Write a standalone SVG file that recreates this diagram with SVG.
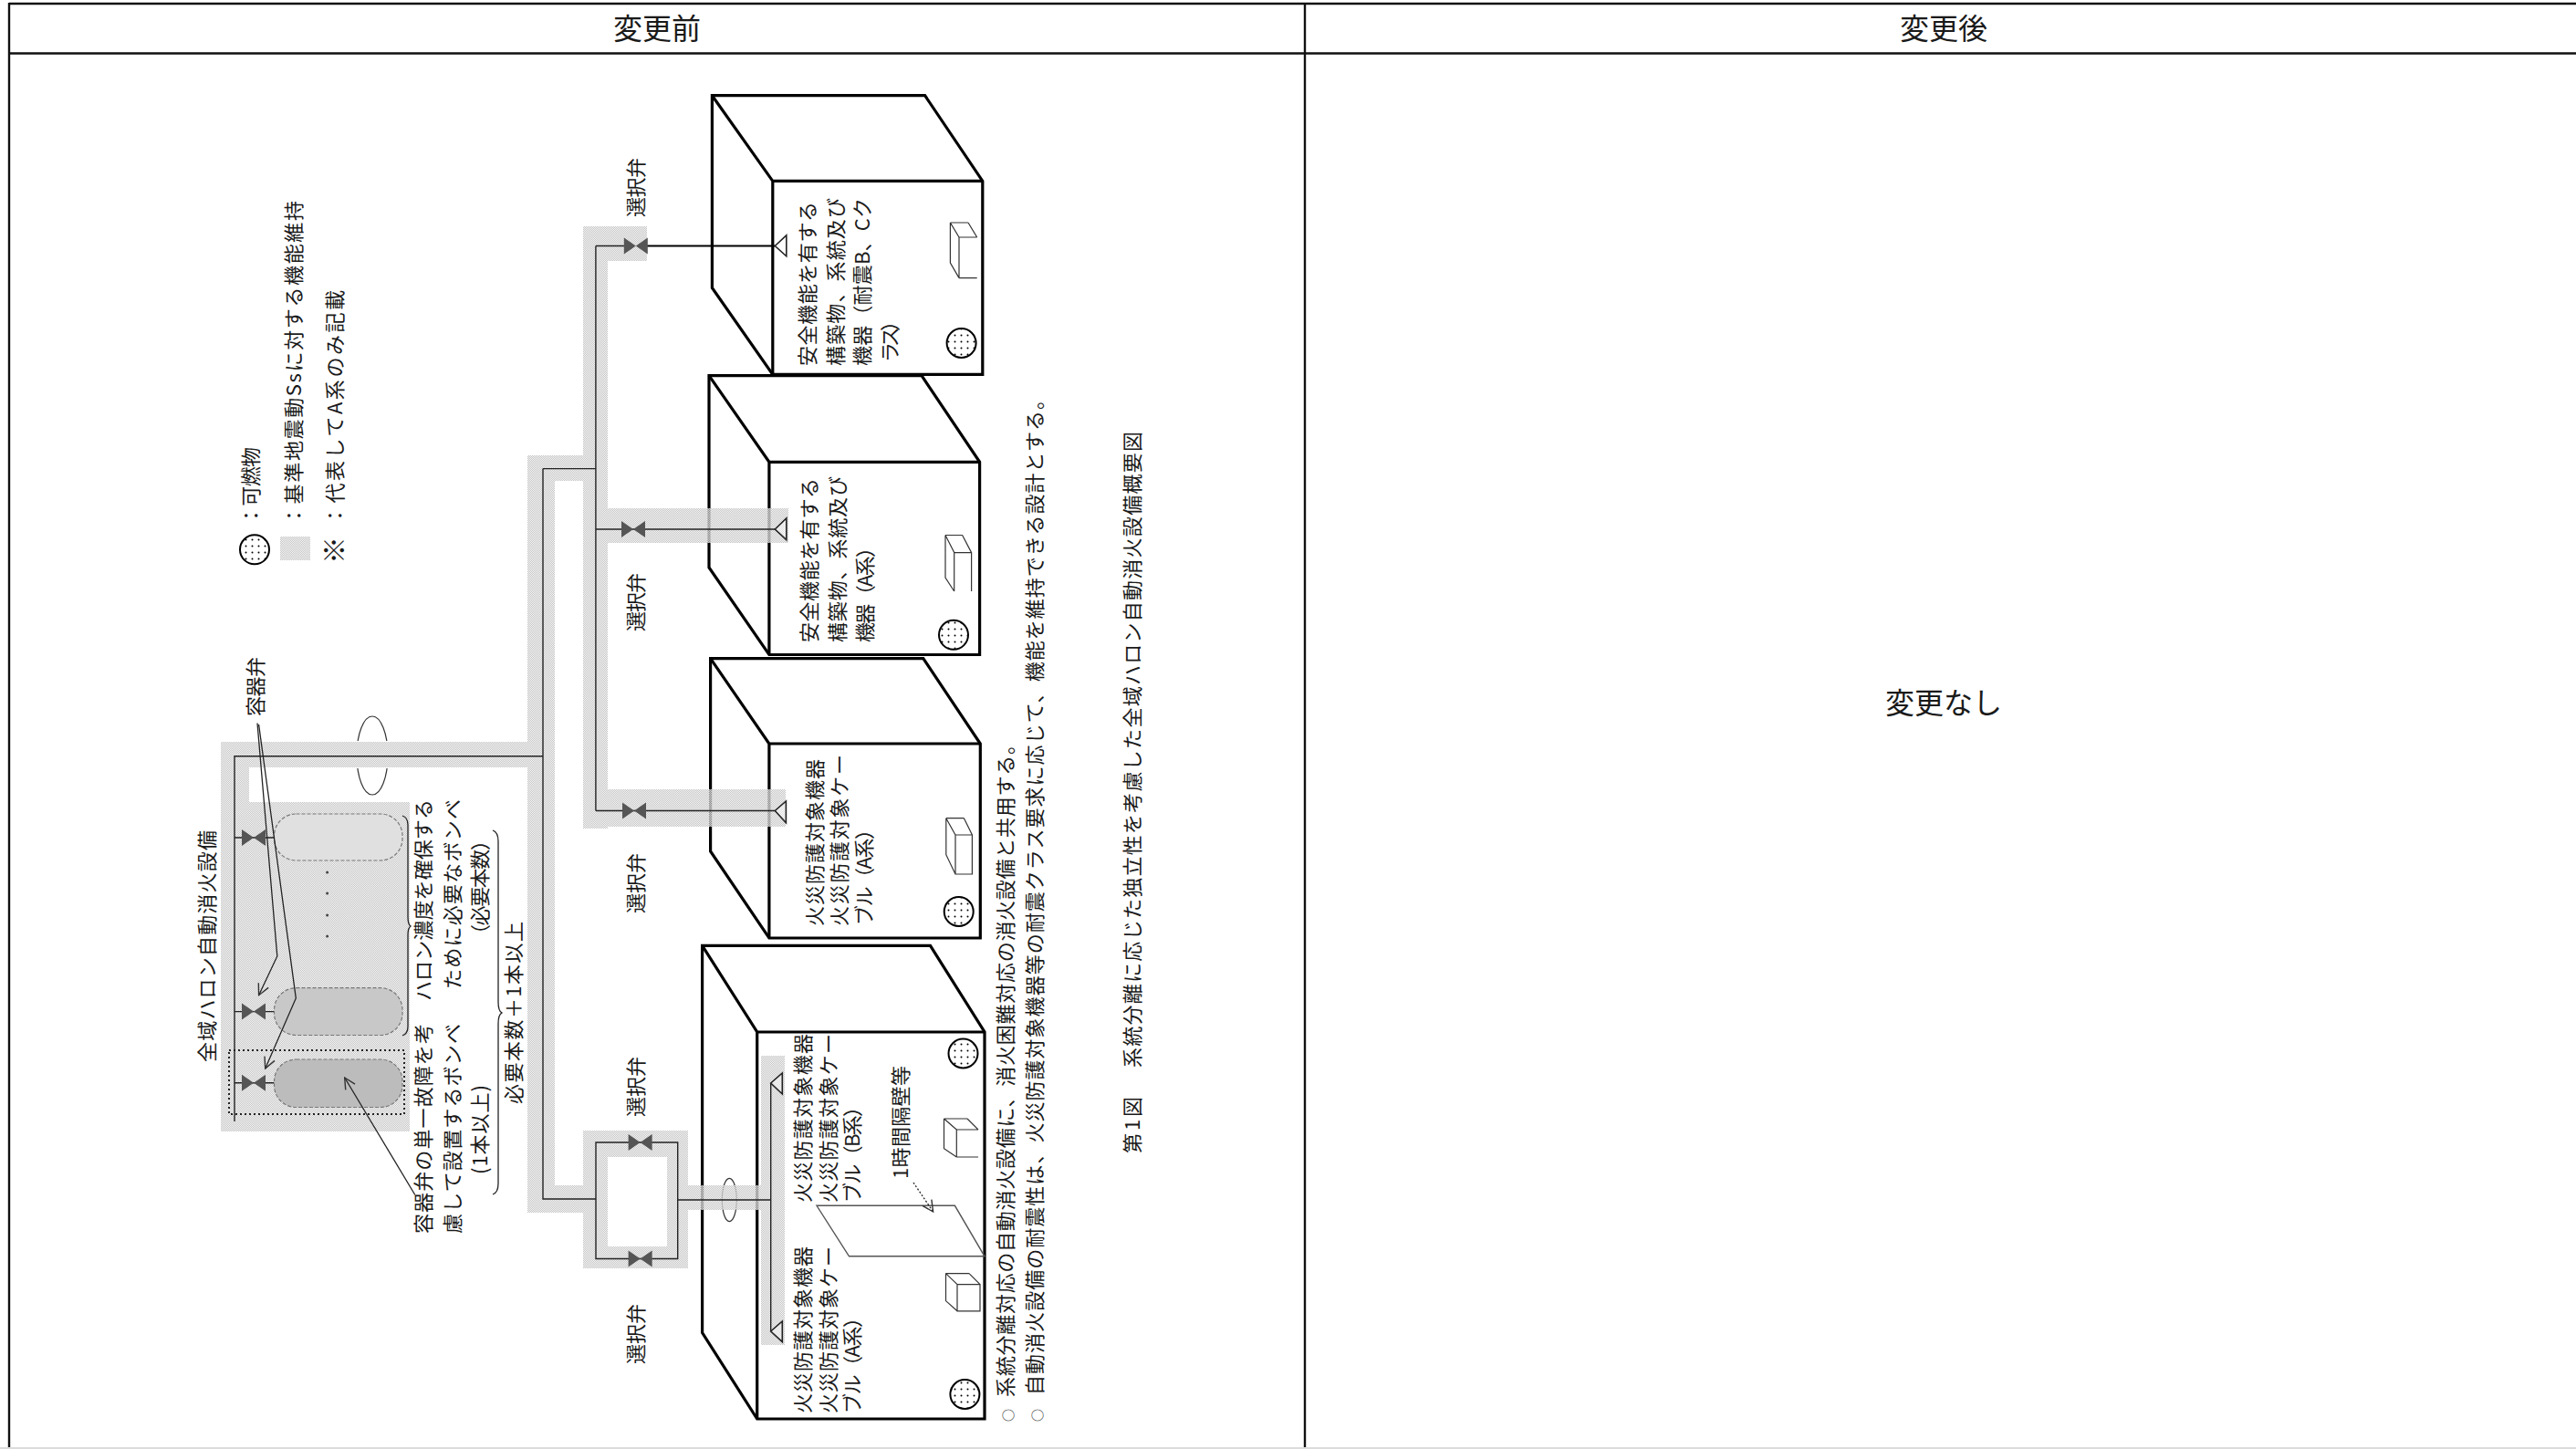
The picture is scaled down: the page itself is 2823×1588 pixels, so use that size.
<svg xmlns="http://www.w3.org/2000/svg" width="2823" height="1588" viewBox="0 0 2823 1588">
<style>
text{font-family:"Noto Sans CJK JP","Noto Sans CJK SC",sans-serif;fill:#1a1a1a}
.h{font-size:32px;text-anchor:middle}
.t{font-size:22px}
.n{font-size:22px}
.s{font-size:14px}
.tl{stroke:#111;stroke-width:2.4;fill:none}
.bx{fill:#fff;stroke:#000;stroke-width:3.2;stroke-linejoin:miter}
.ed{fill:none;stroke:#000;stroke-width:3.2}
.cube{fill:none;stroke:#333;stroke-width:1.2}
.band{fill:url(#ht);stroke:none;fill-rule:evenodd}
.pipe{fill:none;stroke:#222;stroke-width:1.4}
.ci{fill:url(#dots);stroke:#000;stroke-width:2}
.cyl{stroke:#777;stroke-width:1.2;stroke-dasharray:4 2}
.ld{fill:none;stroke:#222;stroke-width:1.3}
.tri{fill:#fff;stroke:#222;stroke-width:1.6;fill-opacity:.4}
.v{fill:#555}
</style>
<defs>
<pattern id="ht" width="2" height="2" patternUnits="userSpaceOnUse">
<rect width="1" height="1" fill="#c6c6c6"/><rect x="1" y="1" width="1" height="1" fill="#c6c6c6"/>
<rect x="1" width="1" height="1" fill="#eeeeee" fill-opacity=".6"/><rect y="1" width="1" height="1" fill="#eeeeee" fill-opacity=".6"/>
</pattern>
<pattern id="dots" width="7" height="7" patternUnits="userSpaceOnUse">
<rect width="7" height="7" fill="#fff"/><circle cx="3.5" cy="3.5" r="1" fill="#000"/>
</pattern>
<marker id="op" markerWidth="14" markerHeight="14" refX="13" refY="7" orient="auto" markerUnits="userSpaceOnUse">
<path d="M1 1L13 7L1 13" fill="none" stroke="#333" stroke-width="1.4"/>
</marker>
<g id="vh"><polygon class="v" points="-13,-9 0,0 -13,9"/><polygon class="v" points="13,-9 0,0 13,9"/></g>
</defs>
<rect width="2823" height="1588" fill="#fff"/>
<g id="table">
<path class="tl" d="M10 4H2823M10 58.500H2823M10 3V1587M1430 3V1587"/>
<rect y="1586" width="2823" height="2" fill="#dcdcdc"/>
<text class="h" x="720" y="43">変更前</text>
<text class="h" x="2130" y="43">変更後</text>
<text class="h" x="2130" y="782">変更なし</text>
</g>
<g id="room-1">
<path class="bx" d="M780.400 104.700H1013.600L1076.800 198.400V410.400H846.800L780.400 315.500Z"/>
<path class="ed" d="M780.400 104.700L846.800 198.400V410.400M846.800 198.400H1076.800"/>
<text class="t" transform="translate(893,401) rotate(-90)" textLength="180">安全機能を有する</text>
<text class="t" transform="translate(924,401) rotate(-90)" textLength="184">構築物、系統及び</text>
<text class="t" transform="translate(953,401) rotate(-90)" textLength="184">機器（耐震B、Cク</text>
<text class="t" transform="translate(983,397) rotate(-90)" textLength="56">ラス）</text>
<path class="cube" d="M1051 304.600V260H1070.700M1041.400 244L1051 260M1061 244L1070.700 260M1041.400 244H1061M1041.400 244V288L1051 304.600M1051 304.600H1070.700"/>
<circle class="ci" cx="1053.600" cy="376" r="16"/>
</g>
<g id="room-2">
<path class="bx" d="M777 411.700H1010L1073.600 506.300V717.500H842.900L777 622Z"/>
<path class="ed" d="M777 411.700L842.900 506.300V717.500M842.900 506.300H1073.600"/>
<text class="t" transform="translate(895,704) rotate(-90)" textLength="180">安全機能を有する</text>
<text class="t" transform="translate(926,704) rotate(-90)" textLength="182">構築物、系統及び</text>
<text class="t" transform="translate(956,704) rotate(-90)" textLength="115">機器（A系）</text>
<path class="cube" d="M1045.700 648V605.600H1064.600V648M1036 586.500L1045.700 605.600M1054.600 586.500L1064.600 605.600M1036 586.500H1054.600M1036 586.500V633L1045.700 648"/>
<circle class="ci" cx="1045" cy="695.800" r="16"/>
</g>
<g id="room-3">
<path class="bx" d="M778.600 721.700H1011.800L1074.300 815V1028H842.900L778.600 933Z"/>
<path class="ed" d="M778.600 721.700L842.900 815V1028M842.900 815H1074.300"/>
<text class="t" transform="translate(901,1015) rotate(-90)" textLength="183">火災防護対象機器</text>
<text class="t" transform="translate(928,1015) rotate(-90)" textLength="188">火災防護対象ケー</text>
<text class="t" transform="translate(955,1014) rotate(-90)" textLength="116">ブル（A系）</text>
<path class="cube" d="M1047 958V915H1065.400V958ZM1036.800 896.700L1047 915M1056.400 896.700L1065.400 915M1036.800 896.700H1056.400M1036.800 896.700V936.700L1047 958"/>
<circle class="ci" cx="1050.700" cy="999" r="16"/>
</g>
<g id="room-4">
<path class="bx" d="M769.600 1036.400H1019.500L1079 1131V1555H829.700L769.600 1460.500Z"/>
<path class="ed" d="M769.600 1036.400L829.700 1131V1555M829.700 1131H1079"/>
<path d="M895 1321.300H1046.400L1079 1376.800H930.500Z" fill="none" stroke="#555" stroke-width="1.400"/>
<text class="t" transform="translate(888,1318) rotate(-90)" textLength="185">火災防護対象機器</text>
<text class="t" transform="translate(916,1318) rotate(-90)" textLength="185">火災防護対象ケー</text>
<text class="t" transform="translate(942,1318) rotate(-90)" textLength="116">ブル（B系）</text>
<text class="t" transform="translate(888,1549) rotate(-90)" textLength="183">火災防護対象機器</text>
<text class="t" transform="translate(916,1549) rotate(-90)" textLength="183">火災防護対象ケー</text>
<text class="t" transform="translate(942,1549) rotate(-90)" textLength="116">ブル（A系）</text>
<text class="t" transform="translate(995,1292) rotate(-90)" textLength="124">1時間隔壁等</text>
<path class="ld" stroke-dasharray="2 2" marker-end="url(#op)" d="M1001 1296L1022.600 1328"/>
<path class="cube" d="M1048.300 1268V1238H1072M1048.300 1268H1072M1034.500 1226L1048.300 1238M1060 1226L1072 1238M1034.500 1226H1060M1034.500 1226V1258.700L1048.300 1268"/>
<path class="cube" d="M1049 1436.800V1407.600H1074V1436.800ZM1036.500 1395.600L1049 1407.600M1062 1395.600L1074 1407.600M1036.500 1395.600H1062M1036.500 1395.600V1425.600L1049 1436.800"/>
<circle class="ci" cx="1055.500" cy="1154.500" r="16"/>
<circle class="ci" cx="1057.400" cy="1528" r="16"/>
</g>
<g id="connectors">
<ellipse cx="408" cy="828" rx="17" ry="43" fill="none" stroke="#333" stroke-width="1.200"/>
<ellipse cx="799.300" cy="1315" rx="8" ry="23.600" fill="none" stroke="#333" stroke-width="1.200"/>
<rect x="390" y="812" width="36" height="30" fill="#fff"/>
<path class="band" d="M242 813H608V841H242ZM578 841H608V1329H578ZM578 499H608V813H578ZM608 499H639V527H608ZM639 248H666V908H639ZM666 248H709V286H666ZM666 557H864V595H666ZM666 865H861V906H666ZM608 1299H639V1329H608ZM639 1239H754V1390H639ZM666 1268V1366H731V1268ZM754 1299H834V1326H754ZM834 1157H860V1474H834ZM242 841H273V1240H242ZM273 879H449V1240H273Z"/>
<path class="pipe" d="M257 1229V828.700H595M595 513.600V1314H653M595 513.600H652.900M652.900 269.500V888.500M652.900 269.500H684M652.900 580H849.300M652.900 888.500H849.300M653 1252H742.700V1379.500H653ZM742.700 1315H844.700M844.700 1187V1459"/>
<path d="M709 269.500H849.300" fill="none" stroke="#000" stroke-width="1.800"/>
<polygon class="tri" points="849.300,269.500 861.800,257.800 861.800,280.800"/>
<polygon class="tri" points="849.300,580 861.800,568 861.800,591.700"/>
<polygon class="tri" points="849.300,888.500 861.400,878 861.400,901.700"/>
<polygon class="tri" points="844.700,1187 857.300,1176 857.300,1199"/>
<polygon class="tri" points="844.700,1459 857.300,1448 857.300,1470.600"/>
<path class="pipe" d="M257 918H300.500M257 1108.600H300.500M257 1186.700H300.500"/>
</g>
<g id="valves">
<use href="#vh" x="696.800" y="269.500"/>
<use href="#vh" x="694" y="580"/>
<use href="#vh" x="695" y="888.500"/>
<use href="#vh" x="701.600" y="1252"/>
<use href="#vh" x="701.600" y="1379.500"/>
<use href="#vh" x="278" y="918"/>
<use href="#vh" x="278" y="1108.600"/>
<use href="#vh" x="278" y="1186.700"/>
<text class="t" transform="translate(705,238) rotate(-90)" textLength="65">選択弁</text>
<text class="t" transform="translate(705,692) rotate(-90)" textLength="64">選択弁</text>
<text class="t" transform="translate(705,1001) rotate(-90)" textLength="66">選択弁</text>
<text class="t" transform="translate(705,1224) rotate(-90)" textLength="66">選択弁</text>
<text class="t" transform="translate(705,1495) rotate(-90)" textLength="66">選択弁</text>
</g>
<g id="cylinders">
<rect class="cyl" x="300.500" y="892" width="140.500" height="51" rx="24" fill="#e0e0e0"/>
<rect class="cyl" x="300.500" y="1082.700" width="140.500" height="51.800" rx="24" fill="#c8c8c8"/>
<rect class="cyl" x="300.500" y="1161" width="140.500" height="52.500" rx="24" fill="#bcbcbc"/>
<g fill="#444"><circle cx="358.600" cy="956" r="1.500"/><circle cx="358.600" cy="979" r="1.500"/><circle cx="358.600" cy="1003" r="1.500"/><circle cx="358.600" cy="1026" r="1.500"/></g>
<rect x="251" y="1151" width="192" height="70" fill="none" stroke="#222" stroke-width="2" stroke-dasharray="2 3"/>
<path class="ld" marker-end="url(#op)" d="M282 792.500L303.800 1048L283.600 1090.700"/>
<path class="ld" marker-end="url(#op)" d="M283.600 794L324.300 1094L290.700 1171"/>
<path class="ld" marker-end="url(#op)" d="M454.800 1309.500L377.700 1181"/>
<path class="ld" d="M441 894Q447 896 447 904V1005Q447 1013 450 1015Q447 1017 447 1025V1125Q447 1133 441 1135"/>
<path class="ld" d="M540 910Q546 912 546 922V1098Q546 1108 550 1110Q546 1112 546 1122V1297Q546 1307 540 1309"/>
<text class="t" transform="translate(288,785) rotate(-90)" textLength="65">容器弁</text>
<text class="n" transform="translate(235,1164) rotate(-90)" textLength="254">全域ハロン自動消火設備</text>
<text class="t" transform="translate(472,1097) rotate(-90)" textLength="221">ハロン濃度を確保する</text>
<text class="t" transform="translate(504,1084) rotate(-90)" textLength="208">ために必要なボンベ</text>
<text class="t" transform="translate(534,1035) rotate(-90)" textLength="125">（必要本数）</text>
<text class="t" transform="translate(472,1352) rotate(-90)" textLength="230">容器弁の単一故障を考</text>
<text class="t" transform="translate(504,1352) rotate(-90)" textLength="230">慮して設置するボンベ</text>
<text class="t" transform="translate(534,1287) rotate(-90)" textLength="98">(1本以上)</text>
<text class="t" transform="translate(571,1210) rotate(-90)" textLength="200">必要本数＋1本以上</text>
</g>
<g id="legend">
<circle class="ci" cx="279" cy="602.300" r="16"/>
<rect x="307" y="588" width="33" height="26" class="band"/>
<text class="t" transform="translate(283,576) rotate(-90)" textLength="86">：可燃物</text>
<text class="t" transform="translate(330,576) rotate(-90)" textLength="356">：基準地震動Ssに対する機能維持</text>
<text class="t" style="font-size:30px" transform="translate(377,618) rotate(-90)">※</text>
<text class="t" transform="translate(375,576) rotate(-90)" textLength="258">：代表してA系のみ記載</text>
</g>
<g id="notes">
<text class="s" transform="translate(1110,1558) rotate(-90)">○</text>
<text class="s" transform="translate(1142,1558) rotate(-90)">○</text>
<text class="t" transform="translate(1110,1531) rotate(-90)" textLength="726">系統分離対応の自動消火設備に、消火困難対応の消火設備と共用する。</text>
<text class="t" transform="translate(1142,1529) rotate(-90)" textLength="1102">自動消火設備の耐震性は、火災防護対象機器等の耐震クラス要求に応じて、機能を維持できる設計とする。</text>
<text class="n" transform="translate(1249,1264) rotate(-90)" textLength="62">第1図</text>
<text class="n" transform="translate(1249,1170) rotate(-90)" textLength="697">系統分離に応じた独立性を考慮した全域ハロン自動消火設備概要図</text>
</g>
</svg>
